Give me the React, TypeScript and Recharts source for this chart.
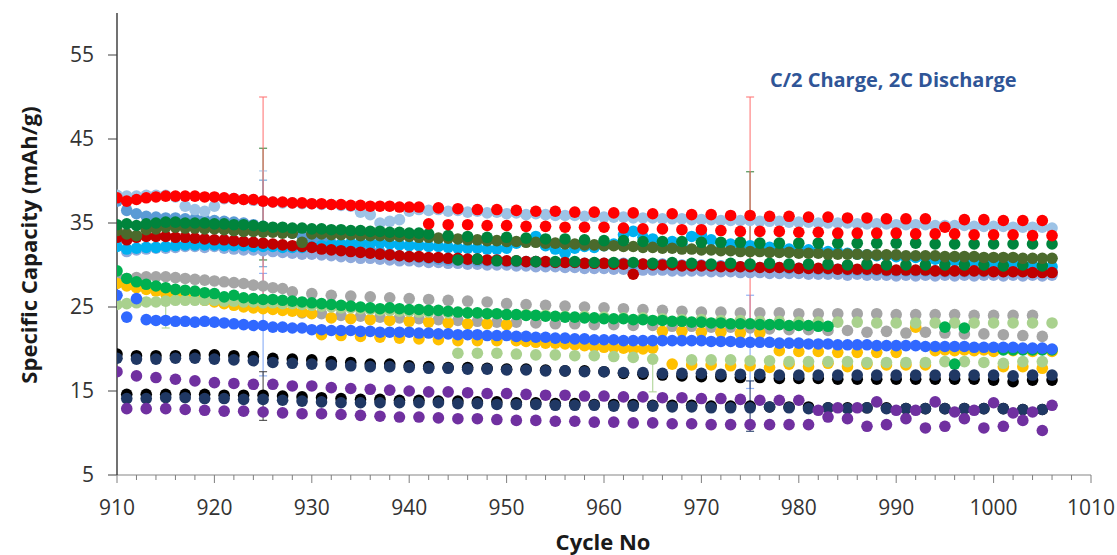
import React from 'react';
import { ScatterChart, Scatter, XAxis, YAxis, ErrorBar } from 'recharts';

const n = null;

// ---- categories (cycle numbers) ----
const ALL_CYCLES = [
  910, 911, 912, 913, 914, 915, 916, 917, 918, 919,
  920, 921, 922, 923, 924, 925, 926, 927, 928, 929,
  930, 931, 932, 933, 934, 935, 936, 937, 938, 939,
  940, 941, 942, 943, 944, 945, 946, 947, 948, 949,
  950, 951, 952, 953, 954, 955, 956, 957, 958, 959,
  960, 961, 962, 963, 964, 965, 966, 967, 968, 969,
  970, 971, 972, 973, 974, 975, 976, 977, 978, 979,
  980, 981, 982, 983, 984, 985, 986, 987, 988, 989,
  990, 991, 992, 993, 994, 995, 996, 997, 998, 999,
  1000, 1001, 1002, 1003, 1004, 1005, 1006,
];
const EVEN_CYCLES = [
  910, 912, 914, 916, 918, 920, 922, 924, 926, 928,
  930, 932, 934, 936, 938, 940, 942, 944, 946, 948,
  950, 952, 954, 956, 958, 960, 962, 964, 966, 968,
  970, 972, 974, 976, 978, 980, 982, 984, 986, 988,
  990, 992, 994, 996, 998, 1000, 1002, 1004, 1006,
];
const ODD_CYCLES = [
  911, 913, 915, 917, 919, 921, 923, 925, 927, 929,
  931, 933, 935, 937, 939, 941, 943, 945, 947, 949,
  951, 953, 955, 957, 959, 961, 963, 965, 967, 969,
  971, 973, 975, 977, 979, 981, 983, 985, 987, 989,
  991, 993, 995, 997, 999, 1001, 1003, 1005,
];
const X_TICKS = [
  910, 912, 914, 916, 918, 920, 922, 924, 926, 928,
  930, 932, 934, 936, 938, 940, 942, 944, 946, 948,
  950, 952, 954, 956, 958, 960, 962, 964, 966, 968,
  970, 972, 974, 976, 978, 980, 982, 984, 986, 988,
  990, 992, 994, 996, 998, 1000, 1002, 1004, 1006, 1008, 1010,
];
const Y_TICKS = [5, 15, 25, 35, 45, 55];

// ---- series values (mAh/g) ----
const PERIWINKLE = [
  33.0, 31.6, 31.8, 31.9, 32.0, 32.0, 32.1, 32.2, 32.2, 32.1,
  32.2, 32.0, 31.9, 31.8, 31.8, 31.7, 31.6, 31.5, 31.4, 31.3,
  31.3, 31.2, 31.1, 31.0, 30.9, 30.8, 30.8, 30.7, 30.6, 30.5,
  30.5, 30.4, 30.3, 30.3, 30.2, 30.2, 30.1, 30.1, 30.0, 30.0,
  30.0, 29.9, 29.9, 29.8, 29.8, 29.8, 29.7, 29.7, 29.6, 29.6,
  29.6, 29.5, 29.5, 29.5, 29.4, 29.4, 29.4, 29.3, 29.3, 29.3,
  29.3, 29.2, 29.2, 29.2, 29.1, 29.1, 29.1, 29.0, 29.0, 29.0,
  29.0, 28.9, 28.9, 28.9, 28.9, 28.8, 28.9, 28.8, 28.8, 28.8,
  28.7, 28.8, 28.7, 28.8, 28.7, 28.8, 28.7, 28.8, 28.7, 28.8,
  28.8, 28.7, 28.8, 28.7, 28.8, 28.7, 28.8,
];
const MED_BLUE = [
  37.6, 36.5, 36.1, 35.8, 35.7, 35.6, 35.6, 35.5, 35.5, 35.4,
  35.3, 35.2, 35.1, 35.0, 34.8, 34.6, 34.4, 34.1, 33.8, 33.5,
  33.2, 32.9, 32.6, 32.4, 32.2, 32.0, 31.8, 31.5, 31.3, 31.1,
  31.0, 30.9, 30.8, 30.7, 30.6, 30.6, 30.6, 30.5, 30.5, 30.5,
  30.4, 30.4, 30.4, 30.4, 30.3, 30.3, 30.3, 30.3, 30.2, 30.2,
  30.2, 30.2, 30.2, 30.1, 30.1, 30.1, 30.1, 30.0, 30.0, 30.0,
  30.0, 29.9, 29.9, 29.9, 29.8, 29.8, 29.7, 29.7, 29.7, 29.6,
  29.6, 29.6, 29.5, 29.5, 29.5, 29.4, 29.4, 29.4, 29.4, 29.3,
  29.3, 29.3, 29.3, 29.3, 29.3, 29.2, 29.3, 29.2, 29.3, 29.2,
  29.3, 29.2, 29.2, 29.2, 29.2, 29.2, 29.2,
];
const LIGHT_BLUE = [
  38.3, 38.2, 38.2, 38.3, 38.3, 38.3, 38.1, 37.0, 36.6, 36.4,
  37.0, 37.9, 37.9, 37.8, 37.7, 37.6, 37.5, 37.4, 37.4, 37.3,
  37.3, 37.2, 37.2, 37.1, 37.0, 36.3, 36.0, 35.0, 35.2, 35.4,
  36.4, 36.6, 36.5, 36.6, 36.4, 36.5, 36.3, 36.4, 36.2, 36.3,
  36.1, 36.2, 36.0, 36.1, 36.0, 35.9, 35.9, 35.9, 35.8, 35.8,
  35.7, 35.7, 35.7, 35.6, 35.6, 35.6, 35.5, 35.5, 35.5, 35.4,
  35.4, 35.4, 35.3, 35.3, 35.3, 35.3, 35.2, 35.2, 35.2, 35.1,
  35.1, 35.1, 35.0, 35.0, 35.0, 35.0, 34.9, 34.9, 34.9, 34.9,
  34.8, 34.8, 34.8, 34.8, 34.7, 34.7, 34.7, 34.7, 34.6, 34.6,
  34.6, 34.6, 34.5, 34.5, 34.5, 34.5, 34.4,
];
const CYAN = [
  32.2, 31.9, 32.0, 32.1, 32.1, 32.2, 32.3, 32.4, 32.4, 32.4,
  32.4, 32.3, 32.3, 32.3, 32.2, 32.2, 32.2, 32.1, 32.1, 32.1,
  32.2, 32.3, 32.4, 32.5, 32.6, 32.6, 32.6, 32.6, 32.5, 32.4,
  32.3, 32.3, 32.2, 32.2, 32.1, 32.0, 32.0, 32.0, 31.9, 31.9,
  32.0, 32.6, 32.8, 33.4, 32.3, 31.9, 31.4, 32.0, 32.2, 32.1,
  32.3, 32.5, 33.6, 34.0, 33.3, 33.1, 32.6, 32.8, 32.5, 33.4,
  33.6, 33.0, 32.6, 32.5, 32.4, 32.3, 32.2, 32.1, 32.0, 31.9,
  31.9, 31.8, 31.7, 31.6, 31.5, 31.4, 31.3, 31.2, 31.1, 31.1,
  31.0, 30.9, 30.9, 30.8, 30.7, 30.6, 30.5, 30.4, 30.4, 30.3,
  30.2, 30.1, 30.1, 30.0, 29.9, 29.9, 29.8,
];
const DARK_RED = [
  33.3, 33.0, 33.3, 33.4, 33.4, 33.4, 33.3, 33.3, 33.2, 33.1,
  33.0, 33.0, 32.9, 32.8, 32.7, 32.6, 32.5, 32.4, 32.3, 32.2,
  32.1, 31.9, 31.8, 31.7, 31.6, 31.5, 31.4, 31.3, 31.2, 31.1,
  31.0, 31.0, 30.9, 30.9, 30.8, 30.8, 30.7, 30.7, 30.6, 30.6,
  30.5, 30.5, 30.4, 30.4, 30.4, 30.3, 30.3, 30.3, 30.2, 30.2,
  30.2, 30.1, 30.1, 28.9, 30.1, 30.0, 30.0, 30.0, 29.9, 29.9,
  29.9, 29.9, 29.8, 29.8, 29.8, 29.8, 29.7, 29.7, 29.7, 29.7,
  29.6, 29.6, 29.6, 29.6, 29.5, 29.5, 29.5, 29.5, 29.5, 29.4,
  29.4, 29.4, 29.4, 29.4, 29.3, 29.3, 29.3, 29.3, 29.3, 29.3,
  29.2, 29.2, 29.2, 29.2, 29.1, 29.1, 29.1,
];
const OLIVE = [
  34.1, 33.7, 33.5, 34.2, 34.3, 34.5, 34.5, 34.4, 34.4, 34.3,
  34.3, 34.2, 34.1, 34.0, 34.0, 33.9, 33.9, 33.8, 33.8, 32.7,
  33.7, 33.7, 33.6, 33.6, 33.6, 33.5, 33.5, 33.5, 33.4, 33.4,
  33.4, 33.3, 33.3, 33.2, 33.2, 33.1, 33.0, 33.0, 32.9, 32.9,
  32.8, 32.8, 32.7, 32.7, 32.6, 32.6, 32.5, 32.5, 32.4, 32.4,
  32.3, 32.3, 32.2, 32.2, 32.1, 32.1, 32.0, 32.0, 31.9, 31.9,
  31.8, 31.8, 31.7, 31.7, 31.6, 31.6, 31.6, 31.5, 31.5, 31.5,
  31.4, 31.4, 31.4, 31.3, 31.3, 31.3, 31.3, 31.2, 31.2, 31.2,
  31.2, 31.1, 31.1, 31.1, 31.1, 31.0, 31.0, 31.0, 31.0, 30.9,
  30.9, 30.9, 30.9, 30.8, 30.8, 30.8, 30.8,
];
const FOREST_UPPER = [
  34.8, 34.9, 34.7, 34.9, 35.0, 35.1, 35.1, 35.0, 35.0, 35.0,
  34.9, 34.9, 34.8, 34.8, 34.7, 34.6, 34.5, 34.5, 34.4, 34.4,
  34.3, 34.3, 34.2, 34.2, 34.1, 34.1, 34.0, 34.0, 33.9, 33.9,
  33.8, 33.8, 33.7, n, 33.5, n, 33.4, n, 33.3, n,
  33.3, n, 33.2, n, 33.1, n, 33.1, n, 33.0, n,
  32.9, n, 32.9, n, 32.8, n, 32.8, n, 32.8, n,
  32.7, n, 32.7, n, 32.7, n, 32.6, n, 32.6, n,
  32.6, n, 32.6, n, 32.6, n, 32.6, n, 32.6, n,
  32.6, n, 32.6, n, 32.5, n, 32.5, n, 32.5, n,
  32.5, n, 32.5, n, 32.5, n, 32.5,
];
const FOREST_LOWER = [
  n, n, n, n, n, n, n, n, n, n,
  n, n, n, n, n, n, n, 30.6, 30.7, 30.5,
  30.5, 30.4, 30.4, 30.4, 30.3, 30.3, 30.3, 30.2, 30.3, 30.2,
  30.1, 30.2, 30.1, 30.2, 30.1, 30.1, 30.1, 30.0, 30.1, 30.0,
  30.0, 30.0, 30.0, 30.0, 30.0, 29.9, 30.0, 29.9,
];
const RED_TOP = [
  38.0, 37.6, 37.8, 38.0, 38.1, 38.2, 38.2, 38.2, 38.2, 38.1,
  38.1, 38.0, 37.9, 37.8, 37.8, 37.6, 37.5, 37.5, 37.4, 37.4,
  37.3, 37.3, 37.2, 37.2, 37.1, 37.1, 37.0, 37.0, 37.0, 36.9,
  36.9, 36.9, n, 36.8, n, 36.7, n, 36.6, n, 36.6,
  n, 36.5, n, 36.4, n, 36.4, n, 36.3, n, 36.3,
  n, 36.2, n, 36.2, n, 36.1, n, 36.1, n, 36.0,
  n, 36.0, n, 35.9, n, 35.9, n, 35.8, n, 35.8,
  n, 35.7, n, 35.7, n, 35.6, n, 35.6, n, 35.5,
  n, 35.5, n, 35.5, n, 34.5, n, 35.4, n, 35.4,
  n, 35.3, n, 35.3, n, 35.3, n,
];
const RED_LOWER = [
  n, n, n, n, n, n, n, n, n, n,
  n, n, n, n, n, n, 34.9, 34.8, 34.8, 34.7,
  34.7, 34.6, 34.6, 34.5, 34.5, 34.5, 34.4, 34.3, 34.3, 34.2,
  34.2, 34.1, 34.0, 34.0, 34.0, 33.9, 33.9, 33.8, 33.8, 33.8,
  33.8, 33.7, 33.7, 33.7, 33.6, 33.6, 33.6, 33.5, 33.5,
];
const GRAY_UPPER = [
  28.6, 28.4, 28.5, 28.6, 28.6, 28.6, 28.5, 28.4, 28.3, 28.2,
  28.1, 28.0, 27.9, 27.8, 27.6, 27.5, 27.3, 27.2, 26.8, n,
  26.6, n, 26.4, n, 26.3, n, 26.2, n, 26.1, n,
  26.0, n, 25.9, n, 25.8, n, 25.7, n, 25.6, n,
  25.4, n, 25.3, n, 25.2, n, 25.1, n, 25.0, n,
  24.9, n, 24.8, n, 24.7, n, 24.6, n, 24.5, n,
  24.4, n, 24.4, n, 24.3, n, 24.3, n, 24.3, n,
  24.2, n, 24.2, n, 24.2, n, 24.2, n, 24.2, n,
  24.1, n, 24.1, n, 24.1, n, 24.1, n, 24.0, n,
  24.0, n, 24.0, n, 24.0, n, n,
];
const GRAY_LOWER = [
  n, n, n, n, n, n, n, n, n, 24.3,
  24.2, 24.0, 23.9, 23.8, 23.7, 23.6, 23.5, 23.4, 23.3, 23.2,
  23.2, 23.1, 23.0, 23.0, 22.9, 22.9, 22.8, 22.8, 22.7, 22.7,
  22.6, 22.6, 22.5, 22.4, 22.3, 22.3, 22.2, 22.2, 22.0, 22.1,
  21.9, 22.0, 21.9, 21.8, 21.8, 21.7, 21.6, 21.5,
];
const ORANGE_UPPER = [
  27.8, 27.5, 27.3, 27.1, 26.9, 26.6, 26.4, 26.2, 26.0, 25.8,
  25.6, 25.4, 25.2, 25.0, 24.9, 24.8, 24.7, 24.6, 24.5, 24.4,
  24.2, n, 23.7, n, 23.6, n, 23.5, n, 23.4, n,
  23.3, n, 23.2, n, 23.1, n, 23.0, n, 23.0, n,
  22.9, 21.0, 20.9, 20.8, 20.7, 20.7, 20.6, 20.5, 20.4, 20.3,
  20.2, 20.2, 20.1, 20.0, 20.0, 20.1, 22.1, n, 22.1, n,
  22.0, n, 22.0, n, 21.9, n, 21.9, n, 19.8, n,
  19.7, n, 19.7, n, 19.6, n, 19.6, n, 19.6, n,
  19.6, n, 22.6, n, 19.8, n, 19.8, n, 19.8, n,
  19.7, n, 19.8, n, 19.7, n, 19.7,
];
const ORANGE_LOWER = [
  n, n, n, n, n, n, n, n, n, n,
  21.7, 21.6, 21.5, 21.4, 21.3, 21.2, 21.1, 21.0, 21.0, 21.0,
  n, n, n, n, n, n, n, n, 18.2, 18.1,
  18.1, 18.0, 18.0, 17.8, 18.2, 17.9, 18.3, 17.9, 18.2, 18.1,
  18.1, 18.1, 19.9, 19.9, 19.9, 17.9, 17.9, 17.7,
];
const LGREEN_UPPER = [
  25.3, 25.4, 25.5, 25.6, 25.6, 25.7, 25.8, 25.8, 25.8, 25.8,
  25.8, 25.7, 25.7, 25.6, 25.6, 25.5, 25.5, 25.4, 25.4, 25.3,
  25.2, 25.1, 25.0, 24.9, 24.9, 24.8, 24.7, 24.6, 24.6, 24.5,
  24.5, 24.4, 24.4, n, 24.3, n, 24.3, n, 24.2, n,
  24.1, n, 24.1, n, 24.0, n, 23.9, n, 23.9, n,
  23.8, n, 23.7, n, 23.7, n, 23.6, n, 23.5, n,
  23.5, n, 23.4, n, 23.4, n, 23.3, n, 23.3, n,
  23.2, n, 23.2, n, 23.2, n, 23.2, n, 23.1, n,
  23.1, n, 23.1, n, 23.1, n, 23.1, n, 23.1, n,
  23.1, n, 23.1, n, 23.1, n, 23.1,
];
const LGREEN_LOWER = [
  n, n, n, n, n, n, n, n, n, n,
  n, n, n, n, n, n, n, 19.5, 19.5, 19.5,
  19.4, 19.3, 19.3, 19.2, 19.2, 19.1, 19.0, 18.8, n, 18.7,
  18.7, 18.7, 18.6, 18.6, 18.5, 18.5, 18.5, 18.5, 18.4, 18.4,
  18.4, 18.4, 18.5, 18.5, 18.4, 18.3, 18.5, 18.5,
];
const BRIGHT_GREEN = [
  29.3, 28.4, 28.0, 27.7, 27.5, 27.3, 27.1, 27.0, 26.9, 26.7,
  26.6, 26.2, 26.4, 26.1, 26.0, 25.9, 25.9, 25.8, 25.7, 25.6,
  25.5, 25.4, 25.3, 25.2, 25.1, 25.0, 24.9, 24.8, 24.9, 24.8,
  24.7, 24.7, 24.6, 24.6, 24.5, 24.4, 24.3, 24.3, 24.2, 24.2,
  24.1, 24.1, 24.0, 24.0, 23.9, 23.9, 23.8, 23.8, 23.7, 23.7,
  23.6, 23.6, 23.6, 23.5, 23.5, 23.4, 23.4, 23.3, 23.3, 23.2,
  23.2, 23.1, 23.1, 23.0, 23.0, 23.0, 22.9, 22.9, 22.9, 22.8,
  22.8, 22.8, 22.7, 22.7, n, n, n, n, n, n,
  n, n, n, n, n, 22.6, 18.2, 22.5, n, n,
  n, 19.9, 19.9, 19.9, 19.9, 19.9, 19.9,
];
const BLUE = [
  26.4, 23.8, 26.0, 23.5, 23.4, 23.4, 23.3, 23.3, 23.2, 23.3,
  23.2, 23.1, 23.0, 22.9, 22.8, 22.8, 22.6, 22.6, 22.5, 22.5,
  22.3, 22.3, 22.2, 22.2, 22.2, 22.1, 22.1, 22.0, 22.0, 22.0,
  22.0, 21.9, 21.9, 21.8, 21.8, 21.7, 21.7, 21.7, 21.6, 21.6,
  21.6, 21.5, 21.5, 21.4, 21.4, 21.3, 21.3, 21.2, 21.2, 21.1,
  21.1, 21.1, 21.0, 21.0, 21.0, 21.0, 21.0, 21.0, 21.0, 21.0,
  21.0, 20.9, 20.9, 20.9, 20.8, 20.8, 20.8, 20.8, 20.7, 20.7,
  20.7, 20.6, 20.6, 20.6, 20.5, 20.5, 20.5, 20.5, 20.4, 20.4,
  20.4, 20.4, 20.4, 20.3, 20.3, 20.3, 20.3, 20.3, 20.2, 20.2,
  20.2, 20.2, 20.2, 20.1, 20.1, 20.1, 20.0,
];
const BLACK_UPPER = [
  19.4, 19.2, 19.2, 19.2, 19.3, 19.3, 19.2, 19.1, 18.9, 18.8,
  18.7, 18.5, 18.4, 18.2, 18.2, 18.0, 17.9, 17.8, 17.8, 17.7,
  17.6, 17.6, 17.5, 17.4, 17.4, 17.3, 17.1, 17.0, 16.9, 16.8,
  16.7, 16.7, 16.6, 16.6, 16.5, 16.5, 16.5, 16.4, 16.4, 16.4,
  16.4, 16.4, 16.4, 16.4, 16.4, 16.3, 16.1, 16.3, 16.3,
];
const NAVY_UPPER = [
  18.9, 18.8, 18.8, 18.9, 18.9, 18.8, 18.7, 18.6, 18.4, 18.3,
  18.2, 18.1, 18.0, 17.9, 17.9, 17.8, 17.7, 17.7, 17.6, 17.6,
  17.5, 17.5, 17.4, 17.4, 17.3, 17.3, 17.2, 17.2, 17.1, 17.1,
  17.1, 17.0, 17.0, 17.0, 16.9, 16.9, 16.9, 16.9, 16.9, 16.9,
  16.9, 16.9, 16.9, 16.9, 16.9, 16.9, 16.8, 16.9, 16.9,
];
const BLACK_LOWER = [
  14.6, 14.6, 14.6, 14.6, 14.6, 14.5, 14.5, 14.5, 14.4, 14.3,
  14.2, 14.1, 14.0, 14.0, 13.9, 13.9, 13.8, 13.8, 13.7, 13.7,
  13.6, 13.6, 13.5, 13.5, 13.4, 13.4, 13.4, 13.3, 13.3, 13.3,
  13.2, 13.2, 13.2, 13.1, 13.1, 13.1, 13.0, 13.0, 13.0, 13.0,
  12.9, 12.9, 12.9, 12.9, 12.9, 12.9, 12.8, 12.8,
];
const NAVY_LOWER = [
  14.1, 14.1, 14.2, 14.2, 14.1, 14.1, 14.0, 14.0, 13.9, 13.8,
  13.7, 13.6, 13.6, 13.6, 13.6, 13.6, 13.6, 13.5, 13.5, 13.4,
  13.4, 13.4, 13.3, 13.3, 13.3, 13.2, 13.2, 13.2, 13.1, 13.1,
  13.0, 13.0, 13.0, 13.1, 13.0, 12.9, 13.0, 12.9, 13.0, 12.9,
  12.9, 12.9, 12.9, 12.9, 12.9, 12.9, 12.8, 12.8,
];
const PURPLE_UPPER = [
  17.3, 16.8, 16.6, 16.4, 16.2, 16.0, 15.9, 15.8, 15.8, 15.6,
  15.6, 15.4, 15.3, 15.2, 15.1, 15.0, 14.9, 14.9, 14.8, 14.7,
  14.7, 14.6, 14.5, 14.5, 14.4, 14.4, 14.3, 14.3, 14.2, 14.2,
  14.1, 14.1, 14.0, 13.9, 13.9, 13.9, 12.7, 13.0, 13.0, 13.7,
  12.7, 12.7, 13.7, 12.5, 12.7, 13.6, 12.4, 12.5, 13.3,
];
const PURPLE_LOWER = [
  12.9, 12.9, 12.9, 12.8, 12.7, 12.6, 12.6, 12.5, 12.4, 12.3,
  12.3, 12.2, 12.1, 12.0, 11.9, 11.9, 11.8, 11.7, 11.7, 11.6,
  11.5, 11.5, 11.4, 11.4, 11.3, 11.3, 11.2, 11.2, 11.1, 11.1,
  11.0, 11.0, 11.0, 11.0, 11.0, 11.0, 11.9, 11.7, 10.8, 11.0,
  11.7, 10.6, 10.8, 11.7, 10.6, 10.8, 11.5, 10.3,
];

// ---- error bars: cycle, centre value, [minus, plus] ----
const ERR_CYCLE = [925, 925, 925, 925, 925, 915, 965, 975, 975, 975, 925, 975];
const ERR_CENTER = [34.6, 37.6, 33.8, 22.8, 14.3, 25.7, 18.8, 32.7, 20.8, 13.0, 37.6, 35.9];
const ERR_MINUS = [4.0, 5.0, 4.0, 6.0, 2.8, 3.2, 3.9, 4.0, 5.5, 2.8, 12.4, 13.0];
const ERR_PLUS = [9.3, 3.6, 6.3, 6.2, 3.0, 0.4, 0.0, 8.4, 5.6, 3.2, 12.4, 14.1];
const ERR_COLOR = ['#2E7D32', '#9DC3E6', '#5B9BD5', '#7FA6F5', '#404040', '#A9D18E',
  '#A9D18E', '#2E7D32', '#7FA6F5', '#1F3864', '#FF7070', '#FF7070'];

type Pt = { x: number; y: number };
function toPoints(cycles: number[], values: (number | null)[]): Pt[] {
  const out: Pt[] = [];
  values.forEach((v, i) => {
    if (v !== null && v !== undefined) out.push({ x: cycles[i], y: v });
  });
  return out;
}

const SERIES = [
  { key: 'periwinkle', color: '#8FAADC', cycles: ALL_CYCLES, values: PERIWINKLE },
  { key: 'medblue', color: '#5B9BD5', cycles: ALL_CYCLES, values: MED_BLUE },
  { key: 'lightblue', color: '#9DC3E6', cycles: ALL_CYCLES, values: LIGHT_BLUE },
  { key: 'cyan', color: '#00B0F0', cycles: ALL_CYCLES, values: CYAN },
  { key: 'darkred', color: '#C00000', cycles: ALL_CYCLES, values: DARK_RED },
  { key: 'forestLower', color: '#00843C', cycles: ODD_CYCLES, values: FOREST_LOWER },
  { key: 'olive', color: '#4B6A2C', cycles: ALL_CYCLES, values: OLIVE },
  { key: 'forestUpper', color: '#00843C', cycles: ALL_CYCLES, values: FOREST_UPPER },
  { key: 'redLower', color: '#FF0000', cycles: EVEN_CYCLES, values: RED_LOWER },
  { key: 'redTop', color: '#FF0000', cycles: ALL_CYCLES, values: RED_TOP },
  { key: 'grayLower', color: '#A5A5A5', cycles: ODD_CYCLES, values: GRAY_LOWER },
  { key: 'grayUpper', color: '#A5A5A5', cycles: ALL_CYCLES, values: GRAY_UPPER },
  { key: 'orangeLower', color: '#FFC000', cycles: ODD_CYCLES, values: ORANGE_LOWER },
  { key: 'orangeUpper', color: '#FFC000', cycles: ALL_CYCLES, values: ORANGE_UPPER },
  { key: 'lgreenLower', color: '#A9D18E', cycles: ODD_CYCLES, values: LGREEN_LOWER },
  { key: 'lgreenUpper', color: '#A9D18E', cycles: ALL_CYCLES, values: LGREEN_UPPER },
  { key: 'brightGreen', color: '#00B050', cycles: ALL_CYCLES, values: BRIGHT_GREEN },
  { key: 'blue', color: '#3068FF', cycles: ALL_CYCLES, values: BLUE },
  { key: 'blackUpper', color: '#000000', cycles: EVEN_CYCLES, values: BLACK_UPPER },
  { key: 'navyUpper', color: '#203864', cycles: EVEN_CYCLES, values: NAVY_UPPER },
  { key: 'blackLower', color: '#000000', cycles: ODD_CYCLES, values: BLACK_LOWER },
  { key: 'navyLower', color: '#203864', cycles: ODD_CYCLES, values: NAVY_LOWER },
  { key: 'purpleUpper', color: '#7030A0', cycles: EVEN_CYCLES, values: PURPLE_UPPER },
  { key: 'purpleLower', color: '#7030A0', cycles: ODD_CYCLES, values: PURPLE_LOWER },
];

const FONT = '"Open Sans", "Liberation Sans", sans-serif';
const DOT_R = 5.8;

const makeDot = (color: string) => (props: any) => {
  const { cx, cy } = props;
  if (cx == null || cy == null) return <g />;
  return <circle cx={cx} cy={cy} r={DOT_R} fill={color} />;
};
const NoDot = () => <g />;

const XTick = (props: any) => {
  const { x, y, payload } = props;
  const major = payload.value % 10 === 0;
  return (
    <g>
      <line x1={x} x2={x} y1={y} y2={y + (major ? 8 : 5)} stroke="#7F7F7F" strokeWidth={1} />
      {major ? (
        <text x={x} y={y + 40} textAnchor="middle" fill="#333333" fontSize={21} fontFamily={FONT}>
          {payload.value}
        </text>
      ) : null}
    </g>
  );
};

export default function App() {
  return (
    <div style={{ position: 'absolute', left: 0, top: 0, width: 1117, height: 555, background: '#ffffff', overflow: 'hidden' }}>
      <ScatterChart width={1117} height={555} margin={{ top: 13, right: 26, bottom: 0, left: 0 }}>
        <XAxis
          type="number"
          dataKey="x"
          domain={[910, 1010]}
          ticks={X_TICKS}
          interval={0}
          height={80}
          tickSize={0}
          tickMargin={0}
          tick={<XTick />}
          axisLine={{ stroke: '#868686', strokeWidth: 1.2 }}
          allowDataOverflow
        />
        <YAxis
          type="number"
          dataKey="y"
          domain={[5, 60]}
          ticks={Y_TICKS}
          interval={0}
          width={117}
          tickSize={9}
          tickMargin={14}
          tick={{ fill: '#333333', fontSize: 21, fontFamily: FONT }}
          tickLine={{ stroke: '#404040' }}
          axisLine={{ stroke: '#262626', strokeWidth: 1.3 }}
          allowDataOverflow
        />
        {SERIES.map((s) => (
          <Scatter
            key={s.key}
            data={toPoints(s.cycles, s.values)}
            fill={s.color}
            shape={makeDot(s.color)}
            isAnimationActive={false}
          />
        ))}
        {ERR_CYCLE.map((c, i) => (
          <Scatter
            key={'err' + i}
            data={[{ x: c, y: ERR_CENTER[i], err: [ERR_MINUS[i], ERR_PLUS[i]] }]}
            shape={NoDot}
            isAnimationActive={false}
          >
            <ErrorBar
              dataKey="err"
              direction="y"
              width={4}
              stroke={ERR_COLOR[i]}
              strokeWidth={1.2}
              strokeOpacity={0.85}
              isAnimationActive={false}
            />
          </Scatter>
        ))}
      </ScatterChart>
      <div
        style={{
          position: 'absolute', left: 770, top: 70, fontFamily: FONT, fontWeight: 700,
          fontSize: 20, lineHeight: '20px', color: '#2F5597', whiteSpace: 'nowrap',
        }}
      >
        C/2 Charge, 2C Discharge
      </div>
      <div
        style={{
          position: 'absolute', left: 28, top: 245, transform: 'translate(-50%, -50%) rotate(-90deg)',
          fontFamily: FONT, fontWeight: 700, fontSize: 22, lineHeight: '24px', color: '#1a1a1a', whiteSpace: 'nowrap',
        }}
      >
        Specific Capacity (mAh/g)
      </div>
      <div
        style={{
          position: 'absolute', left: 603, top: 530, width: 200, marginLeft: -100, textAlign: 'center',
          fontFamily: FONT, fontWeight: 700, fontSize: 22, lineHeight: '22px', color: '#1a1a1a', whiteSpace: 'nowrap',
        }}
      >
        Cycle No
      </div>
    </div>
  );
}
